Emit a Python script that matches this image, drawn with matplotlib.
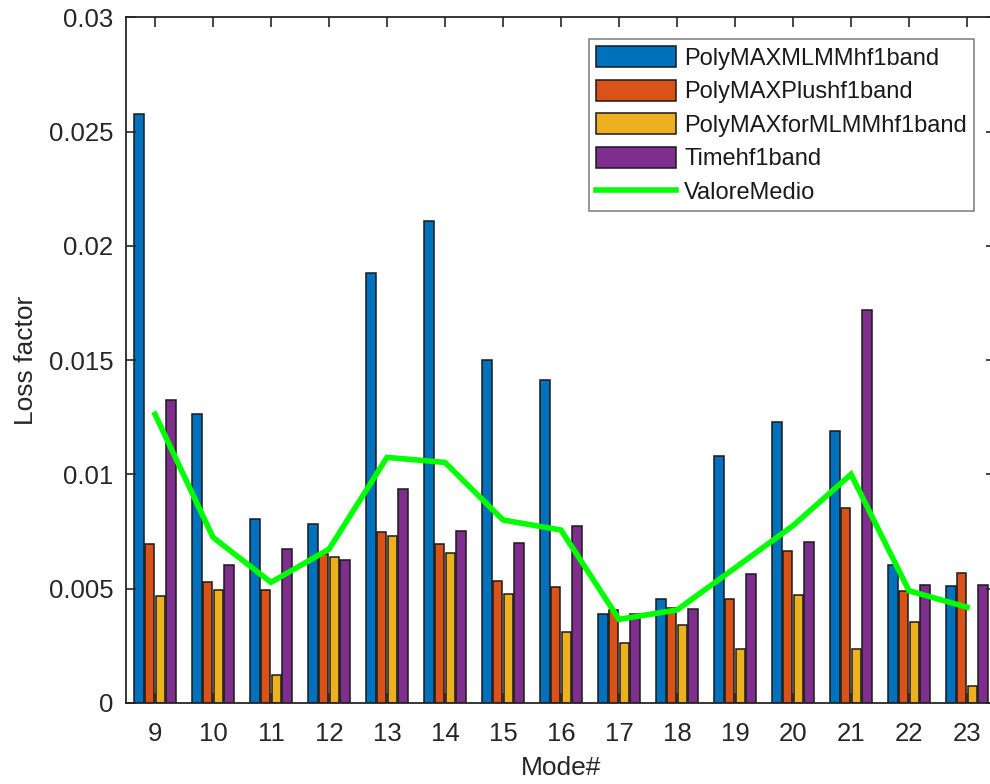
import numpy as np
import matplotlib
matplotlib.use("Agg")
import matplotlib.pyplot as plt

modes = [9, 10, 11, 12, 13, 14, 15, 16, 17, 18, 19, 20, 21, 22, 23]
poly_mlmm = [0.02576, 0.01263, 0.00806, 0.00782, 0.01883, 0.02108, 0.01499, 0.01413,
             0.00388, 0.00455, 0.01080, 0.01230, 0.01190, 0.00601, 0.00511]
poly_plus = [0.00693, 0.00528, 0.00495, 0.00651, 0.00746, 0.00693, 0.00531, 0.00508,
             0.00406, 0.00416, 0.00455, 0.00665, 0.00851, 0.00488, 0.00569]
poly_for = [0.00467, 0.00495, 0.00123, 0.00639, 0.00731, 0.00654, 0.00476, 0.00311,
            0.00261, 0.00341, 0.00234, 0.00473, 0.00236, 0.00355, 0.00074]
time_hf = [0.01324, 0.00604, 0.00674, 0.00623, 0.00937, 0.00752, 0.00700, 0.00772,
           0.00390, 0.00410, 0.00565, 0.00705, 0.01719, 0.00517, 0.00517]
valore_medio = [0.01263, 0.00724, 0.00527, 0.00672, 0.01074, 0.01052, 0.00800, 0.00756,
                0.00365, 0.00406, 0.00590, 0.00775, 0.01000, 0.00490, 0.00418]

labels = ["PolyMAXMLMMhf1band", "PolyMAXPlushf1band", "PolyMAXforMLMMhf1band",
          "Timehf1band", "ValoreMedio"]
colors = ["#0072BD", "#D95319", "#EDB120", "#7E2F8E"]

plt.rcParams['font.family'] = ['Liberation Sans', 'DejaVu Sans']
axc = "#262626"

fig = plt.figure(figsize=(9.9, 7.84), dpi=100)
ax = fig.add_axes([126/990, 1-702.7/784, (996-126)/990, (702.7-17.5)/784])

x = np.array(modes, dtype=float)
offsets = [-0.275, -0.092, 0.092, 0.275]
width = 0.16
series = [poly_mlmm, poly_plus, poly_for, time_hf]
handles = []
for s, off, c, lab in zip(series, offsets, colors, labels[:4]):
    h = ax.bar(x + off, s, width=width, color=c, edgecolor="#1a1a1a", linewidth=1.1, label=lab)
    handles.append(h)
ln, = ax.plot(x, valore_medio, color="#00FF00", linewidth=4.0, label=labels[4],
              solid_joinstyle="miter")
handles.append(ln)

ax.set_xlim(8.5, 23.5)
ax.set_ylim(0, 0.03)
ax.set_xticks(modes)
ax.set_xticklabels([str(m) for m in modes])
ax.set_yticks([0, 0.005, 0.01, 0.015, 0.02, 0.025, 0.03])
ax.set_yticklabels(["0", "0.005", "0.01", "0.015", "0.02", "0.025", "0.03"])
ax.tick_params(direction="in", length=7, width=1.2, colors=axc, labelsize=18.5,
               top=True, right=True, pad=9)
ax.tick_params(axis="x", pad=14)
for sp in ax.spines.values():
    sp.set_color(axc)
    sp.set_linewidth(1.3)
ax.set_xlabel("Mode#", fontsize=19, color=axc, labelpad=7)
ax.set_ylabel("Loss factor", fontsize=19, color=axc, labelpad=8)

leg = ax.legend(handles, labels, loc="upper right", bbox_to_anchor=(974/990, 1-39/784),
                bbox_transform=fig.transFigure, borderaxespad=0, fontsize=17,
                frameon=True, fancybox=False, edgecolor="#666666",
                handlelength=3.4, handleheight=1.0, labelspacing=0.42,
                handletextpad=0.35, borderpad=0.3)
leg.get_frame().set_linewidth(1.2)
for t in leg.get_texts():
    t.set_color("#1a1a1a")

fig.savefig("out.png", dpi=100)
